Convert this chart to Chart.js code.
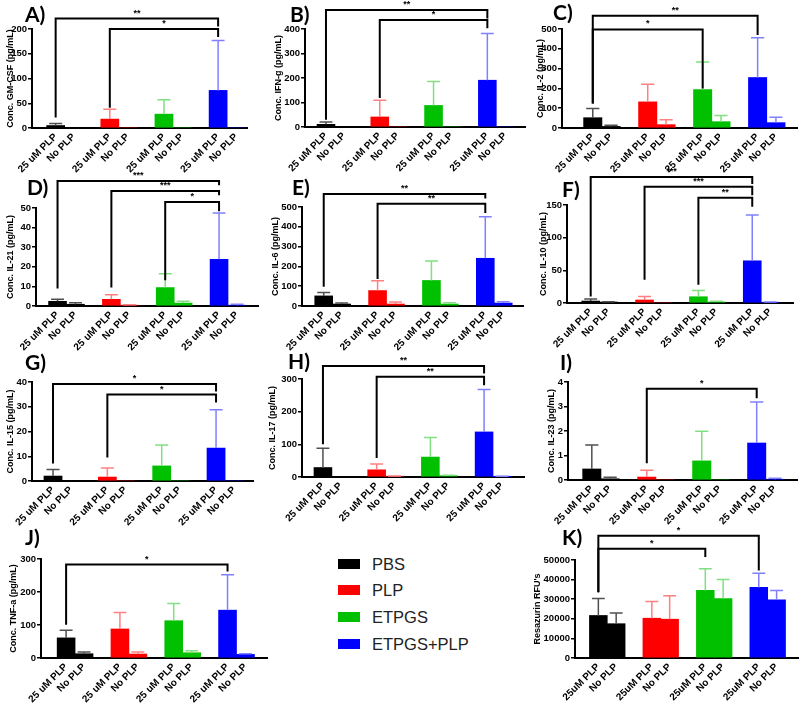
<!DOCTYPE html>
<html>
<head>
<meta charset="utf-8">
<script src="https://cdn.jsdelivr.net/npm/chart.js@4.4.1/dist/chart.umd.min.js"></script>
<style>
  body { margin: 0; background: #fff; }
  #fig { position: relative; width: 800px; height: 703px; overflow: hidden; }
  #fig canvas { position: absolute; }
  .letra { position: absolute; font-family: Lato, "Open Sans", sans-serif; font-weight: 700; font-size: 21px; line-height: 1; color: #000; }
  .leg { position: absolute; left: 338px; font-family: "Liberation Sans", Arial, sans-serif; font-size: 16.5px; color: #222; }
  .leg span { position: absolute; left: 0; width: 22px; height: 10px; }
  .leg b { position: absolute; left: 34px; font-weight: 400; white-space: nowrap; line-height: 1; }
</style>
</head>
<body>
<div id="fig"></div>
<script>
// grupos e cores
const grupos = ['PBS', 'PLP', 'ETPGS', 'ETPGS+PLP'];
const coresGrupos = ['#000000', '#ff0000', '#00c000', '#0000ff'];
const coresErro = ['#505050', '#ff8080', '#80df80', '#8080ff'];

// rótulos do eixo x (25 uM / No PLP por grupo)
const rotulosX = ['25 uM PLP', 'No PLP', '25 uM PLP', 'No PLP', '25 uM PLP', 'No PLP', '25 uM PLP', 'No PLP'];
const rotulosXK = ['25uM PLP', 'No PLP', '25uM PLP', 'No PLP', '25uM PLP', 'No PLP', '25uM PLP', 'No PLP'];
const posicoes = [1, 2, 4, 5, 7, 8, 10, 11];

// médias e desvios (ordem: PBS 25uM, PBS No, PLP 25uM, PLP No, ETPGS 25uM, ETPGS No, ETPGS+PLP 25uM, ETPGS+PLP No)
const gmcsfMedia = [5, 0, 18, 0, 28, 0, 76, 0];
const gmcsfDp    = [4, 0, 20, 0, 29, 0, 101, 0];
const ifngMedia  = [11, 0, 41, 0, 88, 0, 191, 0];
const ifngDp     = [9, 0, 68, 0, 98, 0, 191, 0];
const il2Media   = [52, 8, 132, 17, 194, 32, 255, 27];
const il2Dp      = [46, 6, 89, 25, 139, 31, 201, 27];
const il21Media  = [2.4, 0.9, 3.4, 0.4, 9.4, 1.5, 23.8, 0.4];
const il21Dp     = [1.0, 0.8, 2.4, 0.3, 7.1, 0.9, 23.6, 0.5];
const il6Media   = [51, 10, 78, 10, 129, 10, 241, 15];
const il6Dp      = [17, 5, 49, 10, 98, 7, 210, 7];
const il10Media  = [3, 1.5, 4.6, 0, 9.6, 1.5, 64.6, 1];
const il10Dp     = [3, 0.5, 5.4, 0, 9.7, 1, 70, 0.5];
const il15Media  = [2.0, 0, 1.6, 0, 6.1, 0, 13.3, 0];
const il15Dp     = [2.6, 0, 3.7, 0, 8.4, 0, 15.5, 0];
const il17Media  = [29, 0, 22, 2, 61, 4, 138, 1];
const il17Dp     = [59, 0, 18, 1, 60, 1, 130, 1];
const il23Media  = [0.45, 0.05, 0.12, 0, 0.78, 0, 1.51, 0.03];
const il23Dp     = [0.98, 0.06, 0.28, 0, 1.21, 0, 1.67, 0.04];
const tnfMedia   = [61, 13, 88, 12, 113, 16, 145, 11];
const tnfDp      = [23, 5, 50, 6, 52, 6, 107, 2];
const rfuMedia   = [21700, 17500, 20300, 19800, 34500, 30300, 36000, 29700];
const rfuDp      = [8600, 5500, 8500, 12000, 11000, 9700, 7200, 4800];

// significância: [de, até, nível, fim esquerdo, fim direito, texto]
const gmcsfSig = [[1, 10, 221, 21, 205, '**'], [4, 10, 200, 41, 184, '*']];
const ifngSig  = [[1, 10, 478, 30, 443, '**'], [4, 10, 437, 118, 403, '*']];
const il2Sig   = [[1, 10, 567, 124, 470, '**'], [1, 7, 498, 124, 200, '*']];
const il21Sig  = [[1, 10, 63.8, 8.9, 61.6, '***'], [4, 10, 58.7, 9.4, 56.5, '***'], [7, 10, 53, 13.1, 48.3, '*']];
const il6Sig   = [[1, 10, 566, 97, 543, '**'], [4, 10, 516, 136, 470, '**']];
const il10Sig  = [[1, 10, 193, 10, 182, '***'], [4, 10, 178, 35.6, 165, '***'], [7, 10, 161, 28, 147.5, '**']];
const il15Sig  = [[1, 10, 39.2, 7.1, 36.2, '*'], [4, 10, 34.9, 9.5, 31.7, '*']];
const il17Sig  = [[1, 10, 340, 100, 317, '**'], [4, 10, 307, 58, 281, '**']];
const il23Sig  = [[4, 10, 3.72, 0.68, 3.34, '*']];
const tnfSig   = [[1, 10, 283, 101, 262, '*']];
const rfuSig   = [[1, 10, 62400, 33500, 44700, '*'], [1, 7, 55700, 33500, 51500, '*']];

const paineis = [
  { letra: 'A)', titulo: 'Conc. GM-CSF (pg/mL)', media: gmcsfMedia, dp: gmcsfDp, sig: gmcsfSig, yMax: 200, passo: 50, rotulos: rotulosX,
    eixoX: 32, topo: 29, base: 128, direita: 247, tituloX: 10, xMin: -0.31, xMax: 11.6, letraX: 25, letraY: 3 },
  { letra: 'B)', titulo: 'Conc. IFN-g (pg/mL)', media: ifngMedia, dp: ifngDp, sig: ifngSig, yMax: 400, passo: 100, rotulos: rotulosX,
    eixoX: 305, topo: 29, base: 127, direita: 525, tituloX: 278, xMin: -0.17, xMax: 12.1, letraX: 290, letraY: 3 },
  { letra: 'C)', titulo: 'Conc. IL-2 (pg/mL)', media: il2Media, dp: il2Dp, sig: il2Sig, yMax: 500, passo: 100, rotulos: rotulosX,
    eixoX: 562, topo: 29, base: 128, direita: 797, tituloX: 540, xMin: -0.68, xMax: 12.15, letraX: 553, letraY: 1 },
  { letra: 'D)', titulo: 'Conc. IL-21 (pg/mL)', media: il21Media, dp: il21Dp, sig: il21Sig, yMax: 50, passo: 10, rotulos: rotulosX,
    eixoX: 36, topo: 208, base: 306, direita: 258, tituloX: 10, xMin: -0.2, xMax: 12.17, letraX: 27, letraY: 176 },
  { letra: 'E)', titulo: 'Conc. IL-6 (pg/mL)', media: il6Media, dp: il6Dp, sig: il6Sig, yMax: 500, passo: 100, rotulos: rotulosX,
    eixoX: 302, topo: 207, base: 306, direita: 523, tituloX: 275, xMin: -0.21, xMax: 12.1, letraX: 292, letraY: 176 },
  { letra: 'F)', titulo: 'Conc. IL-10 (pg/mL)', media: il10Media, dp: il10Dp, sig: il10Sig, yMax: 150, passo: 50, rotulos: rotulosX,
    eixoX: 567, topo: 205, base: 303, direita: 793, tituloX: 543, xMin: -0.32, xMax: 12.27, letraX: 562, letraY: 178 },
  { letra: 'G)', titulo: 'Conc. IL-15 (pg/mL)', media: il15Media, dp: il15Dp, sig: il15Sig, yMax: 40, passo: 10, rotulos: rotulosX,
    eixoX: 32, topo: 382, base: 481, direita: 253, tituloX: 10, xMin: -0.16, xMax: 12.04, letraX: 25, letraY: 351 },
  { letra: 'H)', titulo: 'Conc. IL-17 (pg/mL)', media: il17Media, dp: il17Dp, sig: il17Sig, yMax: 300, passo: 100, rotulos: rotulosX,
    eixoX: 302, topo: 379, base: 477, direita: 524, tituloX: 272, xMin: -0.17, xMax: 12.23, letraX: 288, letraY: 350 },
  { letra: 'I)', titulo: 'Conc. IL-23 (pg/mL)', media: il23Media, dp: il23Dp, sig: il23Sig, yMax: 4, passo: 1, rotulos: rotulosX,
    eixoX: 568, topo: 382, base: 480, direita: 797, tituloX: 551, xMin: -0.3, xMax: 12.2, letraX: 560, letraY: 351 },
  { letra: 'J)', titulo: 'Conc. TNF-a (pg/mL)', media: tnfMedia, dp: tnfDp, sig: tnfSig, yMax: 300, passo: 100, rotulos: rotulosX,
    eixoX: 41, topo: 559, base: 658, direita: 267, tituloX: 13, xMin: -0.4, xMax: 12.2, letraX: 25, letraY: 526 },
  { letra: 'K)', titulo: 'Resazurin RFU\'s', media: rfuMedia, dp: rfuDp, sig: rfuSig, yMax: 50000, passo: 10000, rotulos: rotulosXK,
    eixoX: 575, topo: 560, base: 658, direita: 798, tituloX: 537, xMin: -0.31, xMax: 12.2, letraX: 562, letraY: 526 }
];

Chart.defaults.font.family = "'Liberation Sans', Arial, sans-serif";
Chart.defaults.color = '#000';

// barras de erro (só para cima)
const barrasErro = {
  id: 'barrasErro',
  afterDatasetsDraw(chart, args, opts) {
    const ctx = chart.ctx;
    const ys = chart.scales.y;
    chart.getDatasetMeta(0).data.forEach((barra, i) => {
      const dp = opts.dp[i];
      if (!dp) return;
      const topo = ys.getPixelForValue(opts.media[i] + dp);
      const meio = barra.width * 0.36;
      ctx.save();
      ctx.strokeStyle = coresErro[Math.floor(i / 2)];
      ctx.lineWidth = 1.5;
      ctx.beginPath();
      ctx.moveTo(barra.x, barra.y);
      ctx.lineTo(barra.x, topo);
      ctx.moveTo(barra.x - meio, topo);
      ctx.lineTo(barra.x + meio, topo);
      ctx.stroke();
      ctx.restore();
    });
  }
};

// colchetes de significância
const colchetes = {
  id: 'colchetes',
  afterDraw(chart, args, opts) {
    const ctx = chart.ctx;
    const xs = chart.scales.x, ys = chart.scales.y;
    opts.sig.forEach(s => {
      const xa = xs.getPixelForValue(s[0]);
      const xb = xs.getPixelForValue(s[1]);
      const y = ys.getPixelForValue(s[2]);
      ctx.save();
      ctx.strokeStyle = '#000';
      ctx.lineWidth = 2;
      ctx.beginPath();
      ctx.moveTo(xa, ys.getPixelForValue(s[3]));
      ctx.lineTo(xa, y);
      ctx.lineTo(xb, y);
      ctx.lineTo(xb, ys.getPixelForValue(s[4]));
      ctx.stroke();
      ctx.fillStyle = '#000';
      ctx.font = "bold 9px 'Liberation Sans', Arial, sans-serif";
      ctx.textAlign = 'center';
      ctx.textBaseline = 'bottom';
      ctx.fillText(s[5], (xa + xb) / 2, y - 1);
      ctx.restore();
    });
  }
};

const fig = document.getElementById('fig');

function desenharPainel(p) {
  const T = 46, B = 62, R = 6;
  const esq = Math.round(p.tituloX - 5.4);
  const L = p.eixoX - esq;
  const canvas = document.createElement('canvas');
  canvas.width = L + (p.direita - p.eixoX) + R;
  canvas.height = T + (p.base - p.topo) + B;
  canvas.style.left = esq + 'px';
  canvas.style.top = (p.topo - T) + 'px';
  fig.appendChild(canvas);

  const letra = document.createElement('div');
  letra.className = 'letra';
  letra.textContent = p.letra;
  letra.style.left = p.letraX + 'px';
  letra.style.top = p.letraY + 'px';
  fig.appendChild(letra);

  const fonteTick = { size: 9.5, weight: 'bold' };

  new Chart(canvas, {
    type: 'bar',
    data: {
      datasets: [{
        data: p.media.map((v, i) => ({ x: posicoes[i], y: v })),
        backgroundColor: p.media.map((v, i) => coresGrupos[Math.floor(i / 2)]),
        borderWidth: 0,
        categoryPercentage: 1,
        barPercentage: 1
      }]
    },
    options: {
      responsive: false,
      animation: false,
      layout: { padding: { top: T, right: R, left: 0, bottom: 0 } },
      plugins: {
        legend: { display: false },
        tooltip: { enabled: false },
        barrasErro: { media: p.media, dp: p.dp },
        colchetes: { sig: p.sig }
      },
      scales: {
        x: {
          type: 'linear',
          offset: false,
          min: p.xMin,
          max: p.xMax,
          afterBuildTicks: s => { s.ticks = posicoes.map(v => ({ value: v })); },
          afterFit: s => { s.height = B; s.paddingLeft = 0; s.paddingRight = 0; },
          ticks: {
            autoSkip: false,
            minRotation: 45,
            maxRotation: 45,
            padding: 3,
            font: { size: 10, weight: 'bold' },
            callback: (v, i) => p.rotulos[i]
          },
          grid: { display: false, drawTicks: false, tickLength: 0 },
          border: { display: true, color: '#000', width: 2 }
        },
        y: {
          min: 0,
          max: p.yMax,
          afterFit: s => { s.width = L; s.paddingTop = 0; s.paddingBottom = 0; },
          ticks: { stepSize: p.passo, padding: 1, font: fonteTick, callback: v => String(v) },
          grid: { display: true, drawOnChartArea: false, drawTicks: true, tickLength: 4, color: '#000', lineWidth: 1.5 },
          border: { display: true, color: '#000', width: 2 },
          title: { display: true, text: p.titulo, font: { size: 9, weight: 'bold' }, padding: { top: 0, bottom: 0 } }
        }
      }
    },
    plugins: [barrasErro, colchetes]
  });
}

paineis.forEach(desenharPainel);

// legenda
const topoLegenda = [559, 585, 612, 639];
grupos.forEach((g, i) => {
  const item = document.createElement('div');
  item.className = 'leg';
  item.style.top = topoLegenda[i] + 'px';
  item.innerHTML = '<span style="background:' + coresGrupos[i] + '"></span><b style="top:-3px">' + g + '</b>';
  fig.appendChild(item);
});
</script>
</body>
</html>
